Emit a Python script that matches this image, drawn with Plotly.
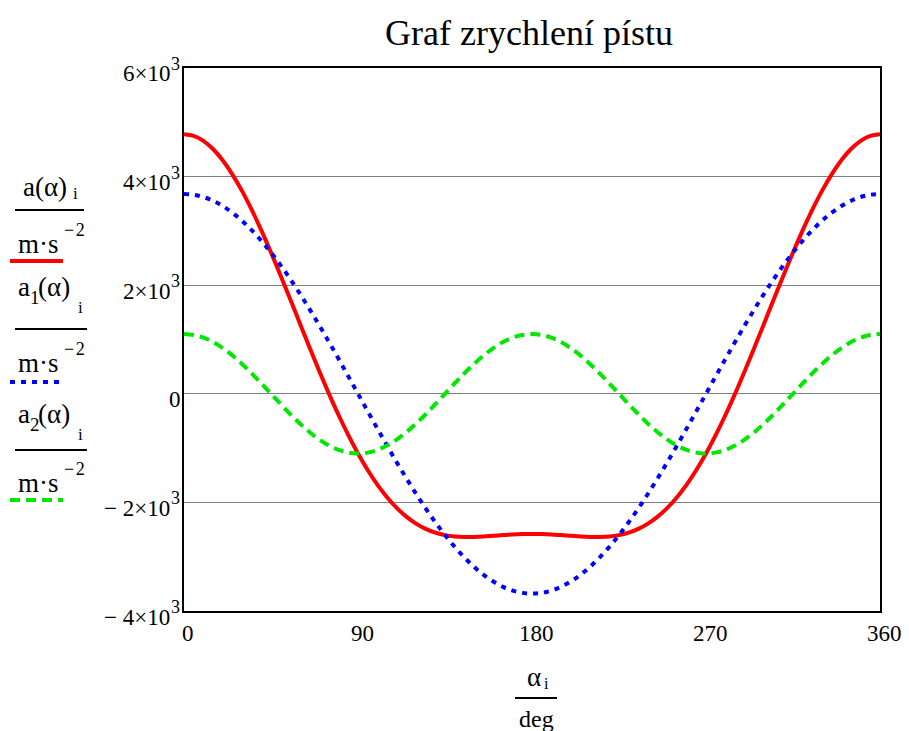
import plotly.graph_objects as go

# ---- data ----
alpha_deg = [0, 5, 10, 15, 20, 25, 30, 35, 40, 45, 50, 55, 60, 65, 70, 75, 80, 85, 90,
             95, 100, 105, 110, 115, 120, 125, 130, 135, 140, 145, 150, 155, 160, 165, 170, 175, 180,
             185, 190, 195, 200, 205, 210, 215, 220, 225, 230, 235, 240, 245, 250, 255, 260, 265, 270,
             275, 280, 285, 290, 295, 300, 305, 310, 315, 320, 325, 330, 335, 340, 345, 350, 355, 360]
a_total = [4780, 4749, 4658, 4508, 4301, 4042, 3737, 3390, 3010, 2602, 2174, 1735, 1290, 848, 416, -1,
           -395, -762, -1100, -1404, -1673, -1905, -2102, -2262, -2390, -2487, -2556, -2602, -2628,
           -2638, -2637, -2628, -2615, -2602, -2590, -2583, -2580,
           -2583, -2590, -2602, -2615, -2628, -2637, -2638, -2628, -2602, -2556, -2487, -2390, -2262,
           -2102, -1905, -1673, -1404, -1100, -762, -395, -1, 416, 848, 1290, 1735, 2174, 2602, 3010,
           3390, 3737, 4042, 4301, 4508, 4658, 4749, 4780]
a_first = [3680, 3666, 3624, 3555, 3458, 3335, 3187, 3014, 2819, 2602, 2365, 2111, 1840, 1555, 1259, 952,
           639, 321, 0, -321, -639, -952, -1259, -1555, -1840, -2111, -2365, -2602, -2819, -3014, -3187,
           -3335, -3458, -3555, -3624, -3666, -3680,
           -3666, -3624, -3555, -3458, -3335, -3187, -3014, -2819, -2602, -2365, -2111, -1840, -1555,
           -1259, -952, -639, -321, 0, 321, 639, 952, 1259, 1555, 1840, 2111, 2365, 2602, 2819, 3014,
           3187, 3335, 3458, 3555, 3624, 3666, 3680]
a_second = [1100, 1083, 1034, 953, 843, 707, 550, 376, 191, 0, -191, -376, -550, -707, -843, -953, -1034,
            -1083, -1100, -1083, -1034, -953, -843, -707, -550, -376, -191, 0, 191, 376, 550, 707, 843,
            953, 1034, 1083, 1100,
            1083, 1034, 953, 843, 707, 550, 376, 191, 0, -191, -376, -550, -707, -843, -953, -1034,
            -1083, -1100, -1083, -1034, -953, -843, -707, -550, -376, -191, 0, 191, 376, 550, 707, 843,
            953, 1034, 1083, 1100]
x_ticks = [0, 90, 180, 270, 360]
y_ticks = [6000, 4000, 2000, 0, -2000, -4000]
y_tick_main = ["6×10", "4×10", "2×10", "0", "− 2×10", "− 4×10"]
y_tick_exp = ["3", "3", "3", "", "3", "3"]

W, H = 909, 731
L, R, T, B = 184, 880, 68, 611
FONT = "Liberation Serif"


def px(x):
    return (x - L) / (R - L)


def py(y):
    return (B - y) / (B - T)


fig = go.Figure()
fig.add_trace(go.Scatter(x=alpha_deg, y=a_total, mode="lines",
                         line=dict(color="#ff0000", width=4, shape="spline"), showlegend=False))
fig.add_trace(go.Scatter(x=alpha_deg, y=a_first, mode="lines",
                         line=dict(color="#0000ff", width=4, shape="spline", dash="5px,6px"), showlegend=False))
fig.add_trace(go.Scatter(x=alpha_deg, y=a_second, mode="lines",
                         line=dict(color="#00e800", width=4, shape="spline", dash="10px,6px"), showlegend=False))

annotations = []
shapes = []


def txt(x, y, s, size=20, xanchor="center"):
    annotations.append(dict(x=px(x), y=py(y), xref="paper", yref="paper", text=s, showarrow=False,
                            xanchor=xanchor, yanchor="middle", borderpad=0,
                            font=dict(family=FONT, size=size, color="black")))


def hline(x0, x1, y, color="black", width=2, dash=None):
    ln = dict(color=color, width=width)
    if dash:
        ln["dash"] = dash
    shapes.append(dict(type="line", xref="paper", yref="paper", x0=px(x0), x1=px(x1),
                       y0=py(y), y1=py(y), line=ln))


# y tick labels
for v, m, e in zip(y_ticks, y_tick_main, y_tick_exp):
    ypix = B - (v - (-4000)) / 10000 * (B - T)
    if e:
        txt(171, ypix + 6, m, 23, "right")
        txt(170, ypix - 4, e, 18, "left")
    else:
        txt(182, ypix + 6, m, 23, "right")

# x tick labels
for v in x_ticks:
    xpix = L + v / 360 * (R - L)
    txt(xpix + 4, 633, str(v), 23)

# title
txt(529, 33, "Graf zrychlení pístu", 36)

# x axis label
txt(534, 677, "α", 27)
txt(546, 683, "i", 16)
hline(515, 557, 698)
txt(536, 719, "deg", 24)

# left legend labels
SUP = "−\u200a2"
txt(22, 187, "a(α)", 27, "left")
txt(72, 193, "i", 17, "left")
hline(15, 84, 210)
txt(17, 244, "m·s", 27, "left")
txt(63, 230, SUP, 18, "left")
hline(10, 63, 261, "#ff0000", 4)

txt(17, 287, "a", 27, "left")
txt(29, 297, "1", 19, "left")
txt(37, 287, "(α)", 27, "left")
txt(77, 307, "i", 17, "left")
hline(15, 87, 329)
txt(17, 363, "m·s", 27, "left")
txt(63, 349, SUP, 18, "left")
hline(10, 63, 382, "#0000ff", 4, "5px,6px")

txt(17, 414, "a", 27, "left")
txt(29, 424, "2", 19, "left")
txt(37, 414, "(α)", 27, "left")
txt(77, 435, "i", 17, "left")
hline(15, 87, 450)
txt(17, 483, "m·s", 27, "left")
txt(63, 469, SUP, 18, "left")
hline(10, 63, 500, "#00e800", 4, "10px,6px")

fig.update_layout(
    width=W, height=H,
    margin=dict(l=L, r=W - R, t=T, b=H - B, pad=0),
    paper_bgcolor="white", plot_bgcolor="white",
    annotations=annotations, shapes=shapes,
    xaxis=dict(range=[0, 360], showgrid=False, zeroline=False, showticklabels=False, ticks="",
               showline=True, mirror=True, linecolor="black", linewidth=2, fixedrange=True),
    yaxis=dict(range=[-4000, 6000], tickvals=y_ticks, showgrid=True, gridcolor="#808080", gridwidth=1,
               zeroline=False, showticklabels=False, ticks="",
               showline=True, mirror=True, linecolor="black", linewidth=2, fixedrange=True),
)

fig.write_html("out.html")
